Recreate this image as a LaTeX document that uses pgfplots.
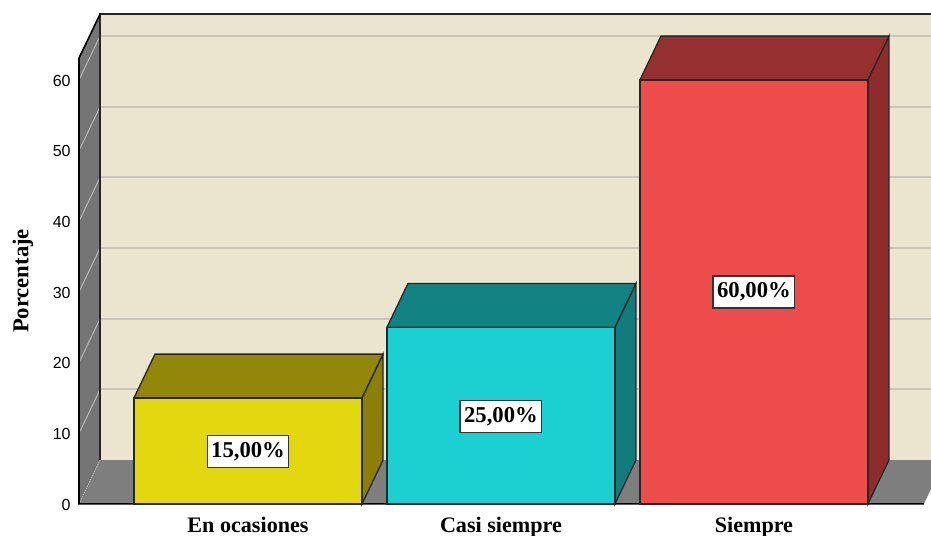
\documentclass[border=0pt]{standalone}
\usepackage{fontspec}
\setmainfont{Liberation Serif}
\newfontfamily\sansnum{Liberation Sans}
\usepackage{pgfplots}
\pgfplotsset{compat=1.18}
\definecolor{wallback}{HTML}{EBE4CF}
\definecolor{wallside}{HTML}{757575}
\definecolor{wallfloor}{HTML}{7E7E7E}
\definecolor{gridback}{HTML}{C9C5B8}
\definecolor{gridside}{HTML}{B5B5B5}
\definecolor{yfront}{HTML}{E3D80F}
\definecolor{ytop}{HTML}{928708}
\definecolor{yside}{HTML}{8A8008}
\definecolor{tfront}{HTML}{1CCFD0}
\definecolor{ttop}{HTML}{138283}
\definecolor{tside}{HTML}{127C7D}
\definecolor{rfront}{HTML}{EE4B4B}
\definecolor{rtop}{HTML}{952F30}
\definecolor{rside}{HTML}{8E2B2C}
\begin{document}
\begin{tikzpicture}
% page frame: axis box plus the margin for labels
\useasboundingbox (-57pt,-21.375pt) rectangle (641.355pt,380.625pt);
\begin{axis}[
  at={(0pt,0pt)},anchor=south west,
  scale only axis,
  width=641.355pt,height=373.65pt,
  xmin=-0.68,xmax=2.70,ymin=-0.5,ymax=70,
  axis line style={draw=none},
  major tick length=0pt,
  xtick={0,1,2},
  xticklabels={En ocasiones,Casi siempre,Siempre},
  ytick={0,10,20,30,40,50,60},
  x tick label style={font=\bfseries\fontsize{16.6}{18}\selectfont,yshift=-3.6pt},
  y tick label style={font=\sansnum\fontsize{12}{13}\selectfont,
    /pgf/number format/assume math mode=true,xshift=-0.5pt,yshift=-0.5pt},
  ylabel={Porcentaje},
  every axis y label/.style={at={(axis description cs:-0.062,0.4546)},rotate=90,anchor=center,
    font=\bfseries\fontsize{17}{18}\selectfont},
]
% back wall, side wall and floor of the chart box
\addplot[fill=wallback,draw=none] coordinates {(-0.585,6.2) (2.8,6.2) (2.8,69.3) (-0.585,69.3)} -- cycle;
\addplot[fill=wallside,draw=none] coordinates {(-0.668,0) (-0.585,6.2) (-0.585,69.3) (-0.668,63.1)} -- cycle;
\addplot[fill=wallfloor,draw=none] coordinates {(-0.668,0) (-0.585,6.2) (2.755,6.2) (2.672,0)} -- cycle;
% grid lines across the back wall
\addplot[gridback,line width=1.5pt,forget plot] coordinates {(-0.585,16.2) (2.8,16.2)};
\addplot[gridback,line width=1.5pt,forget plot] coordinates {(-0.585,26.2) (2.8,26.2)};
\addplot[gridback,line width=1.5pt,forget plot] coordinates {(-0.585,36.2) (2.8,36.2)};
\addplot[gridback,line width=1.5pt,forget plot] coordinates {(-0.585,46.2) (2.8,46.2)};
\addplot[gridback,line width=1.5pt,forget plot] coordinates {(-0.585,56.2) (2.8,56.2)};
\addplot[gridback,line width=1.5pt,forget plot] coordinates {(-0.585,66.2) (2.8,66.2)};
% grid lines across the side wall
\addplot[gridside,line width=0.8pt,forget plot] coordinates {(-0.668,10) (-0.585,16.2)};
\addplot[gridside,line width=0.8pt,forget plot] coordinates {(-0.668,20) (-0.585,26.2)};
\addplot[gridside,line width=0.8pt,forget plot] coordinates {(-0.668,30) (-0.585,36.2)};
\addplot[gridside,line width=0.8pt,forget plot] coordinates {(-0.668,40) (-0.585,46.2)};
\addplot[gridside,line width=0.8pt,forget plot] coordinates {(-0.668,50) (-0.585,56.2)};
\addplot[gridside,line width=0.8pt,forget plot] coordinates {(-0.668,60) (-0.585,66.2)};
\addplot[gridside,line width=0.8pt,densely dotted,forget plot] coordinates {(-0.668,0) (-0.585,6.2)};
% outline of the box
\addplot[black!85,line width=1.3pt,forget plot] coordinates {(-0.585,6.2) (-0.585,69.3) (2.8,69.3)};
\addplot[black,line width=1.2pt,forget plot] coordinates {(-0.585,69.3) (-0.668,63.1) (-0.668,0) (2.672,0)};
% En ocasiones
\addplot[fill=yside,draw=black!85,line width=1pt] coordinates {(0.4506,0) (0.5337,6.2) (0.5337,21.2) (0.4506,15)} -- cycle;
\addplot[fill=ytop,draw=black!85,line width=1pt] coordinates {(-0.4506,15) (-0.3675,21.2) (0.5337,21.2) (0.4506,15)} -- cycle;
\addplot[fill=yfront,draw=black!85,line width=1pt] coordinates {(-0.4506,0) (-0.4506,15) (0.4506,15) (0.4506,0)} -- cycle;
% Casi siempre
\addplot[fill=tside,draw=black!85,line width=1pt] coordinates {(1.4506,0) (1.5337,6.2) (1.5337,31.2) (1.4506,25)} -- cycle;
\addplot[fill=ttop,draw=black!85,line width=1pt] coordinates {(0.5494,25) (0.6325,31.2) (1.5337,31.2) (1.4506,25)} -- cycle;
\addplot[fill=tfront,draw=black!85,line width=1pt] coordinates {(0.5494,0) (0.5494,25) (1.4506,25) (1.4506,0)} -- cycle;
% Siempre
\addplot[fill=rside,draw=black!85,line width=1pt] coordinates {(2.4506,0) (2.5337,6.2) (2.5337,66.2) (2.4506,60)} -- cycle;
\addplot[fill=rtop,draw=black!85,line width=1pt] coordinates {(1.5494,60) (1.6325,66.2) (2.5337,66.2) (2.4506,60)} -- cycle;
\addplot[fill=rfront,draw=black!85,line width=1pt] coordinates {(1.5494,0) (1.5494,60) (2.4506,60) (2.4506,0)} -- cycle;
% value labels at mid height of each bar
\addplot[draw=none,mark=none,
  point meta=explicit symbolic,
  nodes near coords,
  every node near coord/.style={anchor=center,fill=white,draw=black!80,line width=1pt,
    inner xsep=3pt,inner ysep=5pt,text=black,
    font=\bfseries\fontsize{17}{18}\selectfont}]
  coordinates {(0,7.4)[15,00\%] (1,12.4)[25,00\%] (2,30)[60,00\%]};
\end{axis}
\end{tikzpicture}
\end{document}
